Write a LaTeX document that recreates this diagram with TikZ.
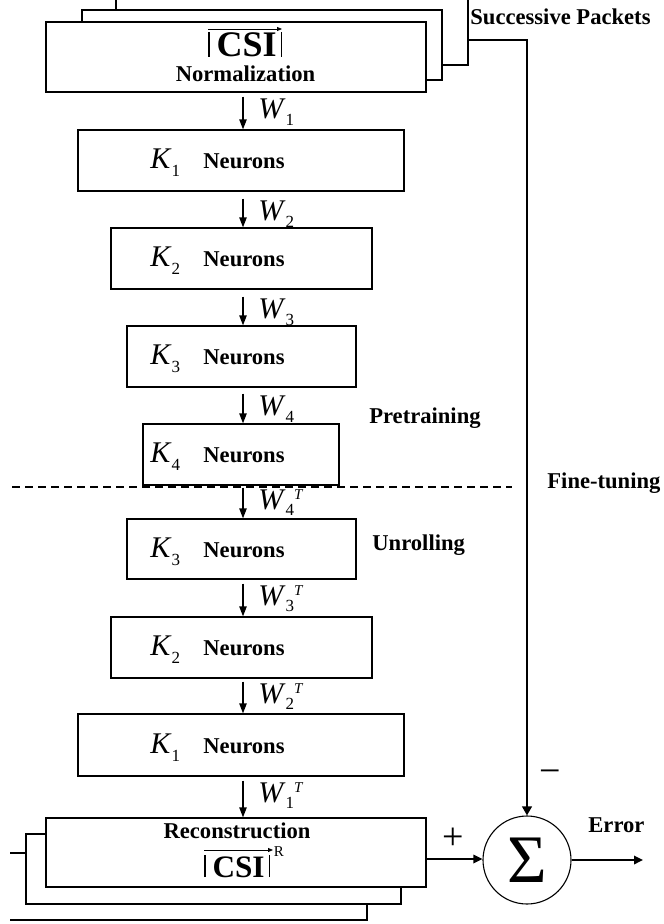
\documentclass[tikz,border=0pt]{standalone}
\usepackage{fontspec}
\setmainfont{Liberation Serif}
\usetikzlibrary{arrows.meta,calc}

% symbols with lowered index / raised transpose mark
\newcommand{\Wsub}[1]{\textit{W}\raisebox{-3.5pt}{\fontsize{8.5}{8.5}\selectfont #1}}
\newcommand{\WsubT}[1]{\textit{W}\raisebox{-3pt}{\fontsize{8.5}{8.5}\selectfont #1}\raisebox{5pt}{\fontsize{7.5}{7.5}\selectfont\itshape T}}
\newcommand{\Ksub}[1]{\textit{K}\raisebox{-4pt}{\fontsize{8.5}{8.5}\selectfont #1}}
% thin magnitude bar, as tall as the capitals
\newcommand{\vbar}{\rule{0.6pt}{0.7em}}

\tikzset{
  box/.style={draw, line width=0.55pt, inner sep=0pt, minimum height=30.5pt},
  thinline/.style={line width=0.55pt},
  warr/.style={line width=0.8pt, -{Triangle[length=5pt,width=3.6pt]}},
  fbline/.style={line width=1pt, -{Triangle[length=4.5pt,width=4.8pt]}},
  harr/.style={line width=1pt, -{Triangle[length=4.5pt,width=4.2pt]}},
  dashline/.style={line width=0.55pt, dash pattern=on 4pt off 2.5pt},
  ovl/.style={line width=0.4pt, -{Triangle[length=2.5pt,width=2pt]}},
  lbl/.style={font=\fontsize{11.3}{13}\selectfont\bfseries, inner sep=0pt},
  sym/.style={font=\fontsize{15}{15}\selectfont, inner sep=0pt},
  csi/.style={inner sep=0pt},
  sign/.style={font=\fontsize{19}{19}\selectfont, inner sep=0pt},
}

\begin{document}
\begin{tikzpicture}[x=0.5pt,y=-0.5pt]
\useasboundingbox (0,0) rectangle (663,924);

% packets stacked behind the input box
\draw[thinline] (82,22) -- (82,10) -- (442,10) -- (442,80) -- (426,80);
\draw[thinline] (116,10) -- (116,0);
\draw[thinline] (468,0) -- (468,65) -- (442,65);
\coordinate (pk) at (468,40);

% input box
\node[box, minimum width=190pt, minimum height=35pt] (norm) at (236,57) {};
\node[csi, anchor=base west, font=\fontsize{18}{18}\selectfont\bfseries] (csiA) at (208,57) {\vbar\hspace{3.5pt}CSI\hspace{2pt}\vbar};
\draw[ovl] ($(csiA.base west)+(0,-28)$) -- ($(csiA.base west)+(74,-28)$);
\node[lbl, anchor=base] (normtxt) at (245.5,82) {Normalization};
\node[lbl, anchor=base west] (succ) at (470,25) {Successive Packets};

% encoder / decoder layers
\node[box, minimum width=163pt] (k1) at (241,160.5) {};
\node[box, minimum width=130.5pt] (k2) at (241.5,258.5) {};
\node[box, minimum width=114.5pt] (k3) at (241.5,356.5) {};
\node[box, minimum width=98pt] (k4) at (241,454.5) {};
\node[box, minimum width=114.5pt, minimum height=30pt] (k3u) at (241.5,549) {};
\node[box, minimum width=130.5pt] (k2u) at (241.5,647.5) {};
\node[box, minimum width=163pt, minimum height=31pt] (k1u) at (241,745) {};

\foreach \n/\i in {k1/1,k2/2,k3/3,k4/4,k3u/3,k2u/2,k1u/1}{
  \node[sym, anchor=base west] (\n-K) at ($(\n.center -| 150,0)+(0,8)$) {\Ksub{\i}};
  \node[lbl, anchor=base west] (\n-N) at ($(\n.center -| 203,0)+(0,8)$) {Neurons};
}

% output box and its stack
\draw[thinline] (46,834) -- (26,834) -- (26,904) -- (401,904) -- (401,887);
\draw[thinline] (26,853) -- (10,853);
\draw[thinline] (10,920) -- (367,920) -- (367,904);
\node[box, minimum width=190pt, minimum height=34.5pt] (rec) at (236,852.5) {};
\node[lbl, anchor=base] (rectxt) at (237,838) {Reconstruction};
\node[csi, anchor=base west, font=\fontsize{15.6}{15.6}\selectfont\bfseries] (csiB) at (204,877) {\vbar\hspace{3.5pt}CSI\hspace{2pt}\vbar\raisebox{10.5pt}{\fontsize{7.5}{7.5}\selectfont\mdseries\hspace{2pt}R}};
\draw[ovl] ($(csiB.base west)+(0,-27)$) -- ($(csiB.base west)+(69,-27)$);

% weight arrows
\coordinate (ax) at (243,0);
\foreach \a/\b/\g/\lab in {norm/k1/4/\Wsub{1}, k1/k2/7/\Wsub{2}, k2/k3/7/\Wsub{3}, k3/k4/6/\Wsub{4},
                         k4/k3u/2/\WsubT{4}, k3u/k2u/4/\WsubT{3}, k2u/k1u/3/\WsubT{2}, k1u/rec/4/\WsubT{1}}{
  \draw[warr] ($(\a.south -| ax)+(0,\g)$) -- (\b.north -| ax);
  \node[sym, anchor=base west] (\a-w) at ($(\a.south -| ax)+(15,\g+22)$) {\lab};
}

% pretraining / fine-tuning split
\coordinate (dl) at (12,487);
\coordinate (dr) at (512,487);
\draw[dashline] (dl) -- (dr);
\node[lbl, anchor=base east] (pre) at (481,423) {Pretraining};
\node[lbl, anchor=base west] (fine) at (547,488) {Fine-tuning};
\node[lbl, anchor=base west] (unr) at (372,550) {Unrolling};

% error summation
\node[circle, draw, line width=0.55pt, minimum size=44pt, inner sep=0pt] (sum) at (527,860) {\fontsize{34}{34}\selectfont Σ};
\draw[fbline] (pk) -| (sum.north);
\coordinate (ry) at (0,859);
\draw[harr] (rec.east |- ry) -- (sum.west |- ry);
\coordinate (errend) at (643,860);
\draw[harr] (sum.east) -- (errend);
\node[sign] (plus) at (453,839) {+};
\node[sign] (minus) at (550,777) {−};
\node[lbl, anchor=base west] (err) at (588,832) {Error};
\end{tikzpicture}
\end{document}
